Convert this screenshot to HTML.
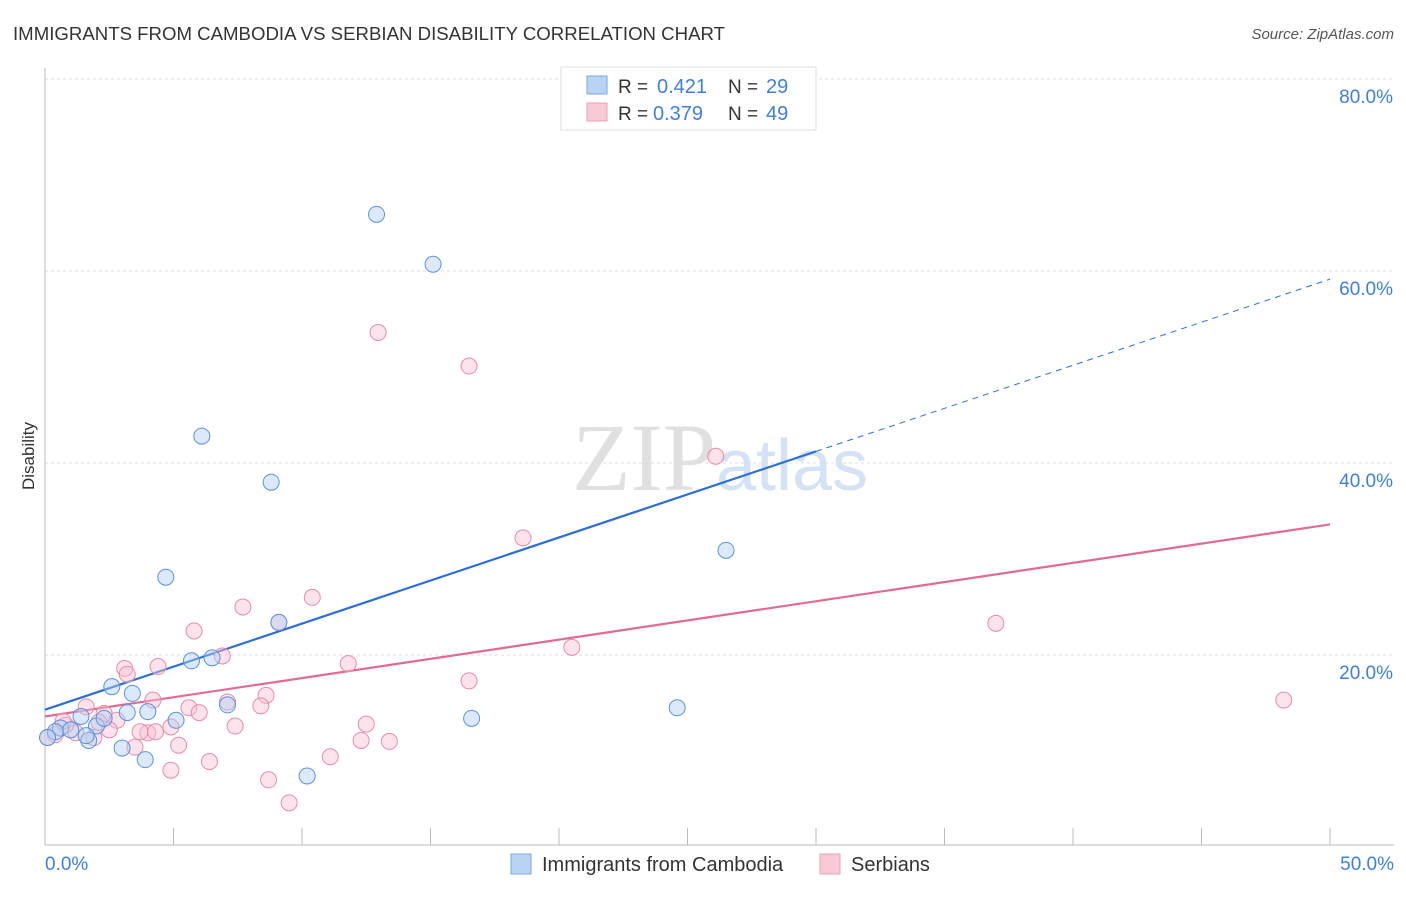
<!DOCTYPE html>
<html><head><meta charset="utf-8"><style>
body{margin:0;background:#fff;font-family:"Liberation Sans",sans-serif}
</style></head><body>
<svg id="chart" width="1406" height="892" xmlns="http://www.w3.org/2000/svg" style="font-family:'Liberation Sans',sans-serif">
<text x="13" y="40" font-size="18" fill="#333" textLength="712" lengthAdjust="spacingAndGlyphs">IMMIGRANTS FROM CAMBODIA VS SERBIAN DISABILITY CORRELATION CHART</text>
<text x="1394" y="39" font-size="15" fill="#555" font-style="italic" text-anchor="end">Source: ZipAtlas.com</text>
<text x="720" y="490" font-size="96" text-anchor="middle" fill="#e0e0e0" font-family="Liberation Serif">ZIP<tspan fill="#d3e3f5" font-family="Liberation Sans" font-size="72">atlas</tspan></text>
<text x="34" y="456" font-size="17" fill="#333" transform="rotate(-90 34 456)" text-anchor="middle">Disability</text>
<g id="grid"></g><g id="axes"></g><g id="trend"></g><g id="points"></g>
<g>
<rect x="561" y="67" width="255" height="63" fill="#fff" stroke="#ddd"/>
<rect x="587" y="76" width="20" height="18" fill="#b8d4f5" stroke="#7aa8e0"/>
<text x="618" y="93" font-size="19" fill="#333">R =</text>
<text x="657" y="93" font-size="20" fill="#3f7fd9">0.421</text>
<text x="728" y="93" font-size="19" fill="#333">N =</text>
<text x="766" y="93" font-size="20" fill="#3f7fd9">29</text>
<rect x="587" y="103" width="20" height="18" fill="#f9c9d7" stroke="#eaa0b6"/>
<text x="618" y="120" font-size="19" fill="#333">R =</text>
<text x="653" y="120" font-size="20" fill="#3f7fd9">0.379</text>
<text x="728" y="120" font-size="19" fill="#333">N =</text>
<text x="766" y="120" font-size="20" fill="#3f7fd9">49</text>
</g>
<g>
<rect x="511" y="854" width="20" height="20" fill="#b8d4f5" stroke="#7aa8e0"/>
<text x="542" y="871" font-size="20" fill="#333">Immigrants from Cambodia</text>
<rect x="820" y="854" width="20" height="20" fill="#f9c9d7" stroke="#eaa0b6"/>
<text x="851" y="871" font-size="20" fill="#333">Serbians</text>
</g>
</svg>
<script>
const yTicks=[20,40,60,80];
const yTickLabels=["20.0%","40.0%","60.0%","80.0%"];
const xTickLabels=["0.0%","50.0%"];
const blueX=[12.9,15.1,6.1,8.8,4.7,26.5,9.1,5.7,6.5,2.6,3.4,3.2,4.0,5.1,7.1,16.6,24.6,1.4,2.0,0.6,1.0,0.4,1.7,3.0,3.9,10.2,0.1,2.3,1.6];
const blueY=[65.9,60.7,42.8,38.0,28.1,30.9,23.4,19.4,19.7,16.7,16.0,14.0,14.1,13.2,14.8,13.4,14.5,13.6,12.6,12.4,12.2,12.0,11.1,10.3,9.1,7.4,11.4,13.4,11.6];
const pinkX=[12.96,16.5,26.1,18.6,37.0,48.2,20.5,10.4,7.7,5.8,6.9,9.1,11.8,16.5,4.4,3.1,3.2,8.6,8.4,4.2,5.6,6.0,7.4,12.5,12.3,13.4,11.1,5.2,6.4,4.9,8.7,9.5,4.0,3.5,2.8,2.3,1.6,1.2,0.8,0.4,0.1,1.9,2.5,4.9,3.7,0.7,2.1,7.1,4.3];
const pinkY=[53.6,50.1,40.7,32.2,23.3,15.3,20.8,26.0,25.0,22.5,19.9,23.4,19.1,17.3,18.8,18.6,18.0,15.8,14.7,15.3,14.5,14.0,12.6,12.8,11.1,11.0,9.4,10.6,8.9,8.0,7.0,4.6,11.9,10.4,13.2,13.9,14.6,11.9,12.7,11.7,11.4,11.4,12.2,12.5,12.0,13.1,13.0,15.1,12.0];
const blueTrend=[14.3,0.897,30];
const pinkTrend=[13.6,0.4];
const NS="http://www.w3.org/2000/svg";
const X=v=>45+v*25.7, Y=v=>847-v*9.6;
function mk(t,a,p){const e=document.createElementNS(NS,t);for(const k in a)e.setAttribute(k,a[k]);document.getElementById(p).appendChild(e);return e;}
yTicks.forEach((t,i)=>{
 let l=mk('line',{x1:45,x2:1394,y1:Y(t),y2:Y(t),stroke:'#ddd','stroke-dasharray':'3,3'},'grid');
 
 
 let tx=mk('text',{x:1393,y:Y(t)+24,'font-size':19,fill:'#3f7fd9','text-anchor':'end'},'axes');
 tx.textContent=yTickLabels[i];
 
 
});
let ya=mk('line',{x1:45,x2:45,y1:68,y2:845,stroke:'#bbb'},'axes');


let xa=mk('line',{x1:45,x2:1394,y1:845,y2:845,stroke:'#bbb'},'axes');


for(let i=0;i<=10;i++){let t=mk('line',{x1:X(i*5),x2:X(i*5),y1:828,y2:845,stroke:'#bbb'},'axes');
 
 }
[[0,'start',45],[50,'end',1394]].forEach((d,i)=>{let t=mk('text',{x:d[2],y:870,'font-size':19,fill:'#3f7fd9','text-anchor':d[1]},'axes');t.textContent=xTickLabels[i];
 
 });
function pts(xs,ys,fill,stroke,name){xs.forEach((x,i)=>{let c=mk('circle',{cx:X(x),cy:Y(ys[i]),r:8,fill:fill,'fill-opacity':0.45,stroke:stroke,'stroke-width':1},'points');
 
 });}
pts(pinkX,pinkY,'#f9c0d2','#e88aa8','serbian-point');
pts(blueX,blueY,'#b0cff5','#5b92dc','cambodia-point');
let b1=mk('line',{x1:X(0),y1:Y(blueTrend[0]),x2:X(blueTrend[2]),y2:Y(blueTrend[0]+blueTrend[1]*blueTrend[2]),stroke:'#2a6fd6','stroke-width':2.2},'trend');


let b2=mk('line',{x1:X(blueTrend[2]),y1:Y(blueTrend[0]+blueTrend[1]*blueTrend[2]),x2:X(50),y2:Y(blueTrend[0]+blueTrend[1]*50),stroke:'#2a6fd6','stroke-width':1,'stroke-dasharray':'6,5'},'trend');


let p1=mk('line',{x1:X(0),y1:Y(pinkTrend[0]),x2:X(50),y2:Y(pinkTrend[0]+pinkTrend[1]*50),stroke:'#e06a93','stroke-width':2.2},'trend');


</script>
</body></html>
